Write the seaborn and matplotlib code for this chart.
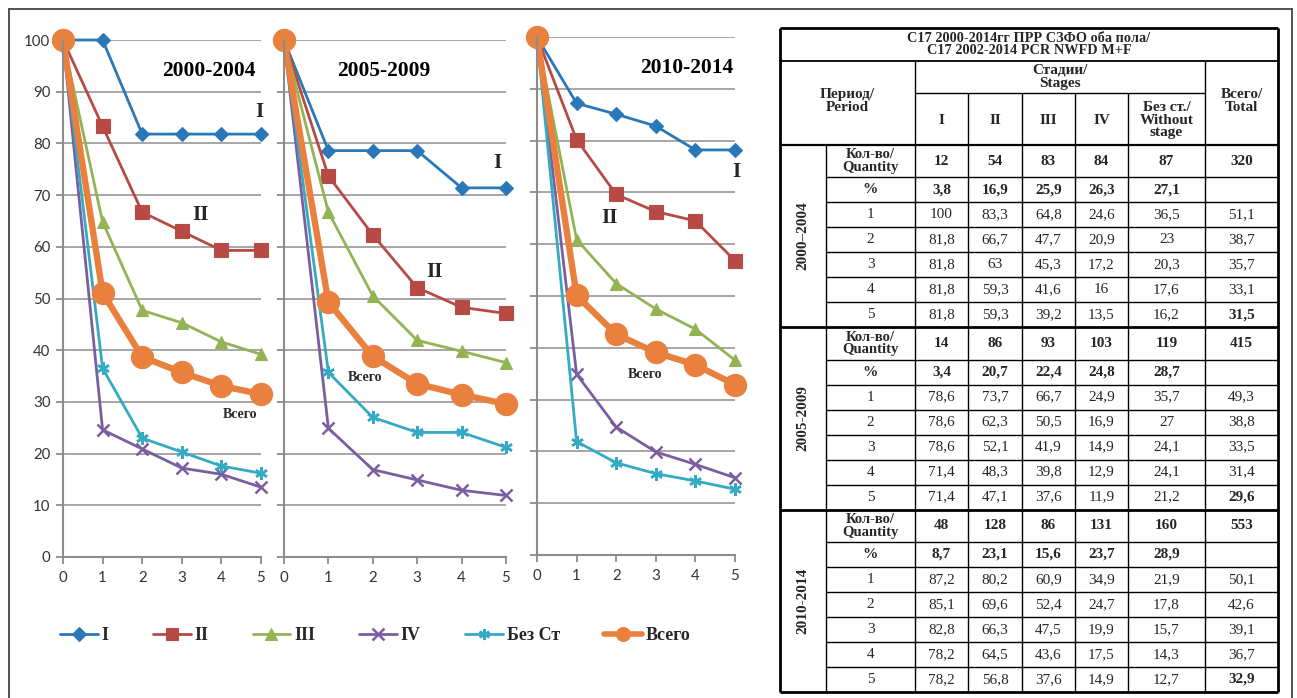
import numpy as np
import pandas as pd
import matplotlib
matplotlib.use("Agg")
import matplotlib.pyplot as plt
from matplotlib.lines import Line2D
import seaborn as sns

# ---------------- data ----------------
years = [0, 1, 2, 3, 4, 5]
series_names = ["I", "II", "III", "IV", "Без Ст", "Всего"]
periods = ["2000-2004", "2005-2009", "2010-2014"]
table_periods = ["2000–2004", "2005-2009", "2010-2014"]

# 2000-2004 (survival, %)
p1_I = [100, 100, 81.8, 81.8, 81.8, 81.8]
p1_II = [100, 83.3, 66.7, 63, 59.3, 59.3]
p1_III = [100, 64.8, 47.7, 45.3, 41.6, 39.2]
p1_IV = [100, 24.6, 20.9, 17.2, 16, 13.5]
p1_NS = [100, 36.5, 23, 20.3, 17.6, 16.2]
p1_ALL = [100, 51.1, 38.7, 35.7, 33.1, 31.5]
# 2005-2009
p2_I = [100, 78.6, 78.6, 78.6, 71.4, 71.4]
p2_II = [100, 73.7, 62.3, 52.1, 48.3, 47.1]
p2_III = [100, 66.7, 50.5, 41.9, 39.8, 37.6]
p2_IV = [100, 24.9, 16.9, 14.9, 12.9, 11.9]
p2_NS = [100, 35.7, 27, 24.1, 24.1, 21.2]
p2_ALL = [100, 49.3, 38.8, 33.5, 31.4, 29.6]
# 2010-2014
p3_I = [100, 87.2, 85.1, 82.8, 78.2, 78.2]
p3_II = [100, 80.2, 69.6, 66.3, 64.5, 56.8]
p3_III = [100, 60.9, 52.4, 47.5, 43.6, 37.6]
p3_IV = [100, 34.9, 24.7, 19.9, 17.5, 14.9]
p3_NS = [100, 21.9, 17.8, 15.7, 14.3, 12.7]
p3_ALL = [100, 50.1, 42.6, 39.1, 36.7, 32.9]

# quantities and shares
q1 = [12, 54, 83, 84, 87, 320]
pct1 = [3.8, 16.9, 25.9, 26.3, 27.1]
q2 = [14, 86, 93, 103, 119, 415]
pct2 = [3.4, 20.7, 22.4, 24.8, 28.7]
q3 = [48, 128, 86, 131, 160, 553]
pct3 = [8.7, 23.1, 15.6, 23.7, 28.9]

panel_series = [
    [p1_I, p1_II, p1_III, p1_IV, p1_NS, p1_ALL],
    [p2_I, p2_II, p2_III, p2_IV, p2_NS, p2_ALL],
    [p3_I, p3_II, p3_III, p3_IV, p3_NS, p3_ALL],
]
quantities = [q1, q2, q3]
percents = [pct1, pct2, pct3]

# ---------------- styles ----------------
colors = {"I": "#2A78B8", "II": "#B84A46", "III": "#93B355",
          "IV": "#7A5EA0", "Без Ст": "#35AAC3", "Всего": "#EA803E"}
markers = {"I": "D", "II": "s", "III": "^", "IV": "x",
           "Без Ст": (6, 2, 0), "Всего": "o"}
msize = {"I": 7, "II": 9.5, "III": 8.5, "IV": 8, "Без Ст": 9, "Всего": 16}
leg_msize = {"I": 7, "II": 9, "III": 8, "IV": 8, "Без Ст": 8, "Всего": 10}
lwidth = {"I": 2.0, "II": 2.0, "III": 2.0, "IV": 2.0, "Без Ст": 2.0, "Всего": 4.6}

sns.set_theme(style="white")
plt.rcParams['font.family'] = ['Liberation Serif', 'DejaVu Sans']

W, H = 1297, 698
fig = plt.figure(figsize=(W / 100, H / 100), dpi=100)


def px_axes(x0, x1, ytop, ybot):
    return fig.add_axes([x0 / W, (H - ybot) / H, (x1 - x0) / W, (ybot - ytop) / H])


# overlay (frame + table)
tax = fig.add_axes([0, 0, 1, 1])
tax.set_xlim(0, W)
tax.set_ylim(H, 0)
tax.axis("off")
tax.patch.set_alpha(0)

frame_c = "#444444"
tax.plot([9, 1292], [9, 9], color=frame_c, lw=1.3)
tax.plot([9, 9], [9, H], color=frame_c, lw=1.3)
tax.plot([1292, 1292], [9, H], color=frame_c, lw=1.3)

panel_boxes = [(63, 261, 40, 557), (284, 506, 40, 557), (537, 735, 37, 555)]
panel_texts = [
    dict(title=(4.85, 94.0), I=(4.95, 86.1), II=(3.46, 66.2), all=(4.47, 27.5)),
    dict(title=(3.29, 94.0), I=(4.80, 76.2), II=(3.40, 55.1), all=(1.82, 34.8)),
    dict(title=(4.95, 94.0), I=(5.03, 73.9), II=(1.84, 65.1), all=(2.73, 34.9)),
]
grid_c = "#A6A6A6"
axis_c = "#8C8C8C"

for pi, (box, ser) in enumerate(zip(panel_boxes, panel_series)):
    ax = px_axes(*box)
    frames = []
    for name, vals in zip(series_names, ser):
        frames.append(pd.DataFrame({"year": years, "value": vals, "series": name}))
    df = pd.concat(frames, ignore_index=True)
    for name in series_names:
        sub = df[df["series"] == name]
        sns.lineplot(data=sub, x="year", y="value", ax=ax, color=colors[name],
                     marker=markers[name], markersize=msize[name],
                     markeredgecolor=colors[name], markerfacecolor=colors[name],
                     markeredgewidth=1.8 if name in ("IV", "Без Ст") else 0.8,
                     linewidth=lwidth[name], clip_on=False, legend=False)
    ax.set_xlim(0, 5)
    ax.set_ylim(0, 100)
    ax.set_xticks(years)
    ax.set_yticks(range(0, 101, 10))
    ax.yaxis.grid(True, color=grid_c, lw=1.4)
    ax.xaxis.grid(False)
    ax.set_axisbelow(True)
    ax.set_xlabel("")
    ax.set_ylabel("")
    for s in ("top", "right"):
        ax.spines[s].set_visible(False)
    for s in ("left", "bottom"):
        ax.spines[s].set_color(axis_c)
        ax.spines[s].set_linewidth(1.5)
    ax.tick_params(axis="both", direction="out", length=5, width=1.3, color=axis_c,
                   labelsize=10.8, labelcolor="#333333", pad=4, left=True, bottom=True)
    ax.tick_params(axis="x", pad=5)
    if pi > 0:
        ax.set_yticklabels([])
    for lbl in ax.get_xticklabels() + ax.get_yticklabels():
        lbl.set_fontfamily("Lato")
    t = panel_texts[pi]
    ax.text(*t["title"], periods[pi], ha="right", va="center", fontsize=15.5,
            fontweight="bold", color="black")
    ax.text(*t["I"], "I", ha="center", va="center", fontsize=15, fontweight="bold")
    ax.text(*t["II"], "II", ha="center", va="center", fontsize=15, fontweight="bold")
    ax.text(*t["all"], "Всего", ha="center", va="center", fontsize=10, fontweight="bold")

# legend
handles = [Line2D([0], [0], color=colors[n], lw=lwidth[n] if n != "Всего" else 4.0,
                  marker=markers[n], markersize=leg_msize[n],
                  markeredgecolor=colors[n], markerfacecolor=colors[n],
                  markeredgewidth=1.8 if n in ("IV", "Без Ст") else 0.8)
           for n in series_names]
fig.legend(handles, series_names, loc="center left",
           bbox_to_anchor=(60 / W, (H - 636) / H), ncol=6, frameon=False,
           prop=dict(family="Liberation Serif", weight="bold", size=13),
           handlelength=2.1, handletextpad=0.2, columnspacing=2.45,
           borderpad=0, borderaxespad=0)

# ---------------- table ----------------
cx = [780, 826, 915, 968, 1022, 1075, 1128, 1205, 1278]
y_title0, y_head0, y_stage, y_head1, y_end = 28, 61, 93, 145, 692
row_h = [(y_end - y_head1) / 3 - 6 * 25] + [25] * 6
lc = "black"


def hl(y, x0, x1, lw=1.0):
    tax.plot([x0, x1], [y, y], color=lc, lw=lw, solid_capstyle="butt")


def vl(x, y0, y1, lw=1.0):
    tax.plot([x, x], [y0, y1], color=lc, lw=lw, solid_capstyle="butt")


def fmt(v):
    v = float(v)
    return str(int(v)) if v.is_integer() else f"{v:.1f}".replace(".", ",")


fs = 11
# outer border
hl(y_title0, cx[0], cx[-1], 2)
hl(y_end, cx[0], cx[-1], 2)
vl(cx[0], y_title0, y_end, 2)
vl(cx[-1], y_title0, y_end, 2)
hl(y_head0, cx[0], cx[-1], 1.3)
hl(y_stage, cx[2], cx[7], 1.0)
hl(y_head1, cx[0], cx[-1], 1.6)
vl(cx[2], y_head0, y_end)
vl(cx[7], y_head0, y_end)
for x in cx[3:7]:
    vl(x, y_stage, y_end)
vl(cx[1], y_head1, y_end)

tax.text((cx[0] + cx[-1]) / 2, (y_title0 + y_head0) / 2,
         "С17 2000-2014гг ПРР СЗФО оба пола/\nС17 2002-2014 PCR NWFD M+F",
         ha="center", va="center", fontsize=10.3, fontweight="bold", linespacing=1.0)
tax.text((cx[0] + cx[2]) / 2, 101, "Период/\nPeriod", ha="center", va="center",
         fontsize=fs, fontweight="bold", linespacing=1.05)
tax.text((cx[2] + cx[7]) / 2, 77, "Стадии/\nStages", ha="center", va="center",
         fontsize=fs, fontweight="bold", linespacing=1.0)
tax.text((cx[7] + cx[8]) / 2, 101, "Всего/\nTotal", ha="center", va="center",
         fontsize=fs, fontweight="bold", linespacing=1.05)
stage_heads = ["I", "II", "III", "IV", "Без ст./\nWithout\nstage"]
for j, lab in enumerate(stage_heads):
    tax.text((cx[2 + j] + cx[3 + j]) / 2, 120, lab, ha="center", va="center",
             fontsize=fs, fontweight="bold", linespacing=0.98)

y = y_head1
for bi in range(3):
    yb0 = y
    ser = panel_series[bi]
    rows = []
    rows.append(("Кол-во/\nQuantity", [fmt(v) for v in quantities[bi]], True))
    rows.append(("%", [fmt(v) for v in percents[bi]] + [""], True))
    for k in range(1, 6):
        rows.append((str(k), [fmt(s[k]) for s in ser], False))
    for ri, (lab, vals, bold) in enumerate(rows):
        h = row_h[ri]
        yc = y + h / 2
        tax.text((cx[1] + cx[2]) / 2, yc, lab, ha="center", va="center",
                 fontsize=fs if ri else 10.5, fontweight="bold" if bold else "normal",
                 linespacing=0.95)
        for j, v in enumerate(vals):
            b = bold or (ri == 6 and j == 5)
            tax.text((cx[2 + j] + cx[3 + j]) / 2, yc, v, ha="center", va="center",
                     fontsize=fs, fontweight="bold" if b else "normal")
        y += h
        if ri < 6:
            hl(y, cx[1], cx[-1], 1.0)
    if bi < 2:
        hl(y, cx[0], cx[-1], 2.0)
    tax.text((cx[0] + cx[1]) / 2, (yb0 + y) / 2, table_periods[bi], rotation=90,
             ha="center", va="center", fontsize=fs, fontweight="bold")

fig.savefig("out.png", dpi=100)
